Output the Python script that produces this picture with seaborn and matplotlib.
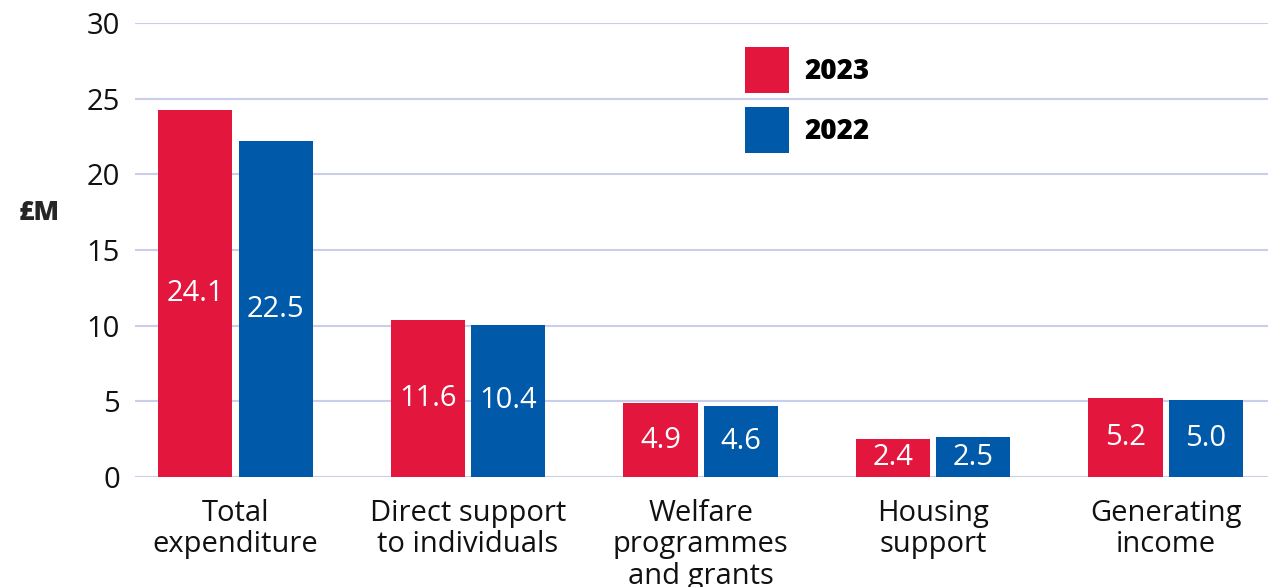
import matplotlib
matplotlib.use("Agg")
import matplotlib.pyplot as plt
import seaborn as sns
import pandas as pd

categories = ["Total\nexpenditure", "Direct support\nto individuals",
              "Welfare\nprogrammes\nand grants", "Housing\nsupport", "Generating\nincome"]
years = ["2023", "2022"]
values_2023 = [24.25, 10.37, 4.87, 2.54, 5.2]
values_2022 = [22.2, 10.05, 4.67, 2.62, 5.07]
labels_2023 = ["24.1", "11.6", "4.9", "2.4", "5.2"]
labels_2022 = ["22.5", "10.4", "4.6", "2.5", "5.0"]
yticks = [0, 5, 10, 15, 20, 25, 30]

RED = "#E3173E"
BLUE = "#005AA9"
GRID = "#C9CFE8"

df = pd.DataFrame({
    "category": categories * 2,
    "year": [years[0]] * len(categories) + [years[1]] * len(categories),
    "value": values_2023 + values_2022,
})

sns.set_theme(style="white")
plt.rcParams["font.family"] = ["Open Sans", "DejaVu Sans"]

fig = plt.figure(figsize=(12.68, 5.87), dpi=100)
ax = fig.add_axes([0.1065, 0.1874, 0.8935, 0.7734])

sns.barplot(data=df, x="category", y="value", hue="year", hue_order=years,
            order=categories, palette=[RED, BLUE], width=0.69, gap=0.075,
            saturation=1, ax=ax, legend=True, linewidth=0)

for cont, labs in zip(ax.containers, [labels_2023, labels_2022]):
    ax.bar_label(cont, labels=labs, label_type="center", color="white", fontsize=21)

ax.set_ylim(0, 30)
ax.set_xlim(-0.432, 4.44)
ax.set_yticks(yticks)
ax.set_yticklabels([str(t) for t in yticks], fontsize=21)
ax.tick_params(axis="y", length=0, pad=11, colors="#111111")
ax.tick_params(axis="x", length=0, pad=16, labelsize=21, colors="#111111")
for lab in ax.get_xticklabels():
    lab.set_linespacing(1.1)
ax.set_xlabel("")
ax.set_ylabel("")
ax.yaxis.grid(True, color=GRID, linewidth=1.5)
ax.set_axisbelow(True)
for s in ax.spines.values():
    s.set_visible(False)

leg = ax.legend(loc="upper left", bbox_to_anchor=(0.5265, 0.977), frameon=False,
                borderpad=0, handlelength=1.58, handleheight=2.16,
                handletextpad=0.55, labelspacing=0.5,
                prop={"size": 20, "weight": "heavy"})
for t in leg.get_texts():
    t.set_color("black")

fig.text(0.015, 0.637, "£M", fontsize=19, fontweight="heavy", va="center", ha="left")

fig.savefig("out.png", dpi=100)
